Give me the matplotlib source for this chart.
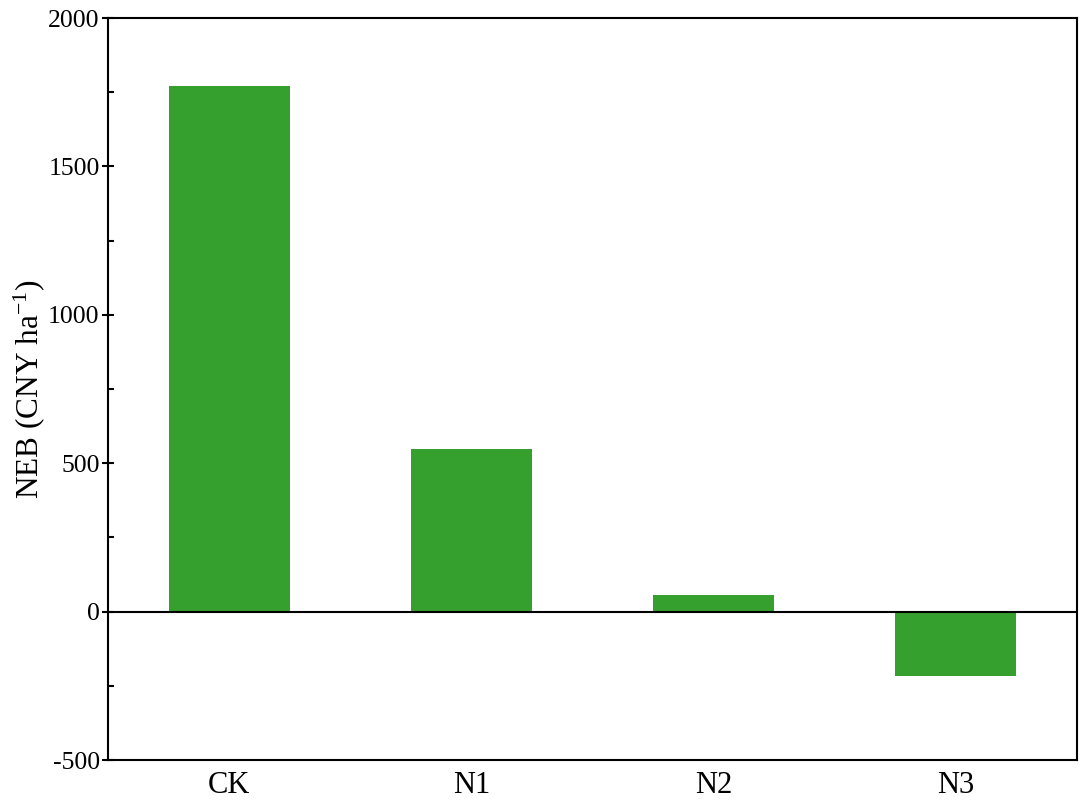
import numpy as np
import matplotlib
matplotlib.use("Agg")
import matplotlib.pyplot as plt
from matplotlib.ticker import MultipleLocator

categories = ["CK", "N1", "N2", "N3"]
neb = [1772, 548, 55, -218]

plt.rcParams['font.family'] = ['Liberation Serif', 'DejaVu Serif']
plt.rcParams['mathtext.fontset'] = 'custom'
plt.rcParams['mathtext.rm'] = 'Liberation Serif'
plt.rcParams['mathtext.it'] = 'Liberation Serif:italic'
plt.rcParams['axes.unicode_minus'] = False

fig = plt.figure(figsize=(10.81, 8.05), dpi=100)
ax = fig.add_axes([0.0999, 0.0559, 0.8964, 0.9217])

x = np.arange(len(categories))
ax.bar(x, neb, width=0.5, color='#35a02e')
ax.axhline(0, color='black', linewidth=1.5)

ax.set_xlim(-0.5, 3.5)
ax.set_ylim(-500, 2000)
ax.set_xticks(x)
ax.set_xticklabels(categories)
ax.yaxis.set_major_locator(MultipleLocator(500))
ax.yaxis.set_minor_locator(MultipleLocator(250))

ax.tick_params(axis='x', length=0, labelsize=22, pad=8)
ax.tick_params(axis='y', which='major', direction='inout', length=8, width=1.5, labelsize=18.5, pad=2)
ax.tick_params(axis='y', which='minor', direction='in', length=4, width=1.5)

for s in ax.spines.values():
    s.set_linewidth(1.5)

ax.set_ylabel("NEB (CNY ha$^{-1}$)", fontsize=22.5, labelpad=1)

fig.savefig("out.png", dpi=100)
